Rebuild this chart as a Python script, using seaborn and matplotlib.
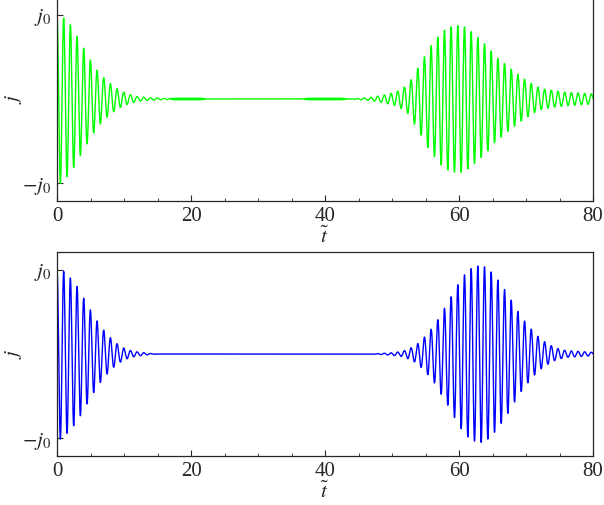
import seaborn as sns
import matplotlib
matplotlib.use("Agg")
import matplotlib.pyplot as plt
import numpy as np
import pandas as pd

sns.set_style("ticks")
plt.rcParams['font.family'] = ['Liberation Serif', 'DejaVu Serif']
plt.rcParams['mathtext.fontset'] = 'stix'

# envelope of the oscillations (units of j0)
green_env_t = [0, 0.5, 1, 2, 3, 4, 5, 6, 7, 8, 9, 10, 11, 12, 13, 14, 16, 18,
               44, 47, 49, 50.5, 51.5, 52.5, 53.5, 54.5, 55.5, 56.5, 57.5, 58.5,
               59.5, 60.5, 61.5, 62.5, 63.5, 64.5, 65.5, 66.5, 67.5, 68.5, 69.5,
               70.5, 71.5, 72.5, 74, 76, 78, 80]
green_env_a = [1.0, 1.0, 0.96, 0.88, 0.74, 0.6, 0.46, 0.34, 0.25, 0.18, 0.12, 0.08,
               0.05, 0.03, 0.02, 0.015, 0.008, 0.0,
               0.0, 0.02, 0.05, 0.08, 0.12, 0.18, 0.32, 0.45, 0.6, 0.7, 0.8, 0.85,
               0.87, 0.87, 0.82, 0.75, 0.68, 0.6, 0.5, 0.44, 0.37, 0.31, 0.25,
               0.2, 0.15, 0.12, 0.1, 0.08, 0.07, 0.06]

# small fast ripple seen in the green trace
ripple_t = [16.5, 17.5, 21.5, 22.5, 36.5, 37.5, 42.5, 43.5]
ripple_a = [0.0, 0.012, 0.012, 0.0, 0.0, 0.012, 0.012, 0.0]
ripple_period = 0.3

blue_env_t = [0, 0.5, 1, 2, 3, 4, 5, 6, 7, 8, 9, 10, 11, 12, 13, 14, 15,
              47, 48, 50, 51.5, 52.5, 53.5, 54.5, 55.5, 56.5, 57.5, 58.5, 59.5,
              60.5, 61.5, 62.5, 63.5, 64.5, 65.5, 66.5, 67.5, 68.5, 69.5, 70.5,
              71.5, 72.5, 73.5, 74.5, 76, 78, 80]
blue_env_a = [1.0, 1.01, 0.98, 0.9, 0.8, 0.66, 0.52, 0.39, 0.28, 0.19, 0.12, 0.07,
              0.04, 0.025, 0.015, 0.005, 0.0,
              0.0, 0.005, 0.015, 0.03, 0.06, 0.1, 0.17, 0.26, 0.36, 0.5, 0.63, 0.78,
              0.91, 1.0, 1.04, 1.05, 1.0, 0.91, 0.8, 0.68, 0.54, 0.42, 0.32,
              0.23, 0.16, 0.11, 0.07, 0.04, 0.03, 0.02]

carrier_period = 0.997
x_ticks = [0, 20, 40, 60, 80]
y_ticks = [-1, 1]
y_ticklabels = [r'$-j_0$', r'$j_0$']

t = np.linspace(0, 80, 24000)
carrier = np.cos(2 * np.pi * t / carrier_period)
green = np.interp(t, green_env_t, green_env_a) * carrier \
    + np.interp(t, ripple_t, ripple_a) * np.sin(2 * np.pi * t / ripple_period)
blue = np.interp(t, blue_env_t, blue_env_a) * carrier

df = pd.DataFrame({'t': t, 'green': green, 'blue': blue})

fig = plt.figure(figsize=(6.04, 5.05), dpi=100)
ax1 = fig.add_axes([0.0944, 0.602, 0.8874, 0.404])
ax2 = fig.add_axes([0.0944, 0.097, 0.8874, 0.404])

for ax, col, c in [(ax1, 'green', '#00ff00'), (ax2, 'blue', '#0000ff')]:
    sns.lineplot(data=df, x='t', y=col, ax=ax, color=c, linewidth=1.0,
                 estimator=None, sort=False)
    ax.set_xlim(0, 80)
    ax.set_ylim(-1.21, 1.21)
    ax.set_xticks(x_ticks)
    ax.set_xticks(np.arange(0, 81, 5), minor=True)
    ax.set_yticks(y_ticks)
    ax.set_yticklabels(y_ticklabels)
    ax.tick_params(which='both', direction='in', labelsize=15, top=False, right=False)
    ax.tick_params(which='major', length=4, pad=4)
    ax.tick_params(which='minor', length=2.5)
    ax.set_xlabel(r'$\tilde{t}$', fontsize=15, labelpad=1)
    ax.set_ylabel(r'$j$', fontsize=15)
    ax.yaxis.set_label_coords(-0.062, 0.5)
    for s in ax.spines.values():
        s.set_linewidth(0.9)

fig.savefig('out.png', dpi=100)
